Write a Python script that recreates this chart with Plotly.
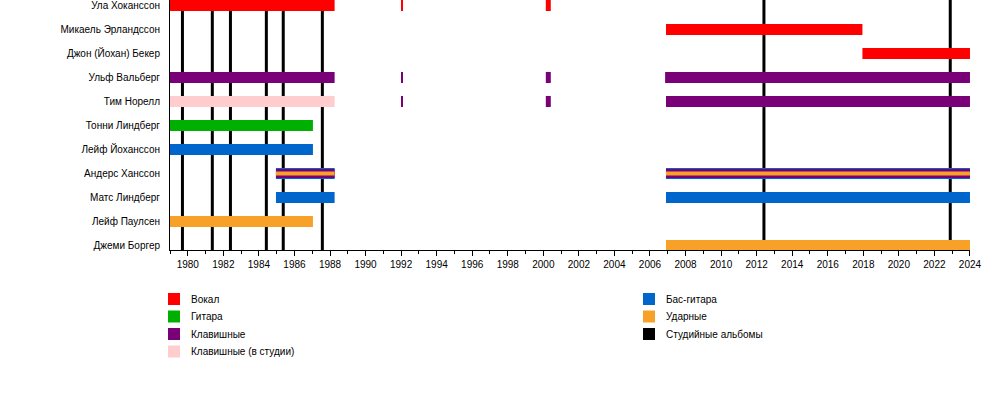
import plotly.graph_objects as go

# band members, top to bottom
members = [
    "Ула Хоканссон", "Микаель Эрландссон", "Джон (Йохан) Бекер", "Ульф Вальберг",
    "Тим Норелл", "Тонни Линдберг", "Лейф Йоханссон", "Андерс Ханссон",
    "Матс Линдберг", "Лейф Паулсен", "Джеми Боргер",
]

# stints per role: member, start, end (years)
vocal_member = ["Ула Хоканссон", "Ула Хоканссон", "Ула Хоканссон", "Микаель Эрландссон", "Джон (Йохан) Бекер"]
vocal_start = [1979, 1992.0, 2000.14, 2006.9, 2017.95]
vocal_end = [1988.26, 1992.08, 2000.42, 2017.95, 2024]

guitar_member = ["Тонни Линдберг"]
guitar_start = [1979]
guitar_end = [1987.04]

bass_member = ["Лейф Йоханссон", "Матс Линдберг", "Матс Линдберг", "Андерс Ханссон", "Андерс Ханссон"]
bass_start = [1979, 1984.96, 2006.9, 1984.96, 2006.9]
bass_end = [1987.04, 1988.26, 2024, 1988.26, 2024]

keys_member = ["Ульф Вальберг", "Ульф Вальберг", "Ульф Вальберг", "Ульф Вальберг",
               "Тим Норелл", "Тим Норелл", "Тим Норелл", "Андерс Ханссон", "Андерс Ханссон"]
keys_start = [1979, 1992.0, 2000.14, 2006.85, 1992.0, 2000.14, 2006.9, 1984.96, 2006.9]
keys_end = [1988.26, 1992.08, 2000.42, 2024, 1992.08, 2000.42, 2024, 1988.26, 2024]

studio_keys_member = ["Тим Норелл"]
studio_keys_start = [1979]
studio_keys_end = [1988.26]

drums_member = ["Лейф Паулсен", "Джеми Боргер", "Андерс Ханссон", "Андерс Ханссон"]
drums_start = [1979, 2006.9, 1984.96, 2006.9]
drums_end = [1987.04, 2024, 1988.26, 2024]

album_years = [1979.70, 1981.38, 1982.40, 1984.42, 1985.37, 1987.57, 2012.41, 2022.89]

x_ticks = list(range(1980, 2025, 2))

RED = "#ff0000"
GREEN = "#00b000"
PURPLE = "#7a0078"
PINK = "#ffcdcd"
BLUE = "#0066cc"
ORANGE = "#f7a128"

FONT = "Liberation Sans, Arial, sans-serif"

fig = go.Figure()


def add_bars(member_list, starts, ends, color, width):
    lens = [e - s for s, e in zip(starts, ends)]
    fig.add_trace(go.Bar(
        y=member_list, x=lens, base=starts, orientation="h", width=width,
        marker=dict(color=color, line=dict(width=0)), hoverinfo="skip",
    ))


def split(member_list, starts, ends, who, keep):
    out = [(m, s, e) for m, s, e in zip(member_list, starts, ends) if (m == who) == keep]
    return [o[0] for o in out], [o[1] for o in out], [o[2] for o in out]


add_bars(vocal_member, vocal_start, vocal_end, RED, 0.46)
add_bars(guitar_member, guitar_start, guitar_end, GREEN, 0.46)
add_bars(studio_keys_member, studio_keys_start, studio_keys_end, PINK, 0.46)

# bass first (full height), then keyboards, then drums narrower for the striped member
add_bars(bass_member, bass_start, bass_end, BLUE, 0.46)
m, s, e = split(keys_member, keys_start, keys_end, "Андерс Ханссон", False)
add_bars(m, s, e, PURPLE, 0.46)
m, s, e = split(keys_member, keys_start, keys_end, "Андерс Ханссон", True)
add_bars(m, s, e, PURPLE, 0.38)
m, s, e = split(drums_member, drums_start, drums_end, "Андерс Ханссон", False)
add_bars(m, s, e, ORANGE, 0.46)
m, s, e = split(drums_member, drums_start, drums_end, "Андерс Ханссон", True)
add_bars(m, s, e, ORANGE, 0.17)

# studio album lines, under the bars
shapes = []
for yr in album_years:
    shapes.append(dict(type="line", xref="x", yref="paper", x0=yr, x1=yr, y0=0, y1=1,
                       line=dict(color="black", width=3), layer="below"))

# legend drawn by hand in two columns
L, T, W, H = 170, 0, 800, 250


def px(xp):
    return (xp - L) / W


def py(yp):
    return (T + H - yp) / H


legend_left = [("Вокал", RED), ("Гитара", GREEN), ("Клавишные", PURPLE), ("Клавишные (в студии)", PINK)]
legend_right = [("Бас-гитара", BLUE), ("Ударные", ORANGE), ("Студийные альбомы", "black")]

annotations = []
for col_x, items in ((168, legend_left), (643, legend_right)):
    for i, (label, color) in enumerate(items):
        yc = 299 + i * 17.5
        shapes.append(dict(type="rect", xref="paper", yref="paper",
                           x0=px(col_x), x1=px(col_x + 12), y0=py(yc - 6), y1=py(yc + 6),
                           fillcolor=color, line=dict(width=0)))
        annotations.append(dict(xref="paper", yref="paper", x=px(col_x + 21), y=py(yc),
                                text=label, showarrow=False, xanchor="left", yanchor="middle",
                                font=dict(family=FONT, size=10, color="black")))

fig.update_layout(
    width=1000, height=400,
    margin=dict(l=170, r=30, t=0, b=150),
    plot_bgcolor="white", paper_bgcolor="white",
    barmode="overlay", showlegend=False,
    font=dict(family=FONT, size=10, color="black"),
    shapes=shapes, annotations=annotations,
)
fig.update_xaxes(
    range=[1979, 2024.001], tickvals=x_ticks, ticks="outside", ticklen=5, tickcolor="black",
    showline=True, linecolor="black", linewidth=1, showgrid=False, zeroline=False,
    minor=dict(dtick=1, tick0=1979, ticks="outside", ticklen=3, tickcolor="black"),
    tickfont=dict(family=FONT, size=10, color="black"),
)
fig.update_yaxes(
    type="category", categoryorder="array", categoryarray=members,
    range=[10.19, -0.229], ticks="", showline=True, linecolor="black", linewidth=1,
    showgrid=False, zeroline=False, ticklabelstandoff=7,
    tickfont=dict(family=FONT, size=10, color="black"),
)

# page body has a default 8px margin; drop it so the figure sits at the window corner
fig.write_html("out.html", config={"displayModeBar": False},
               post_script="document.body.style.margin='0';")
